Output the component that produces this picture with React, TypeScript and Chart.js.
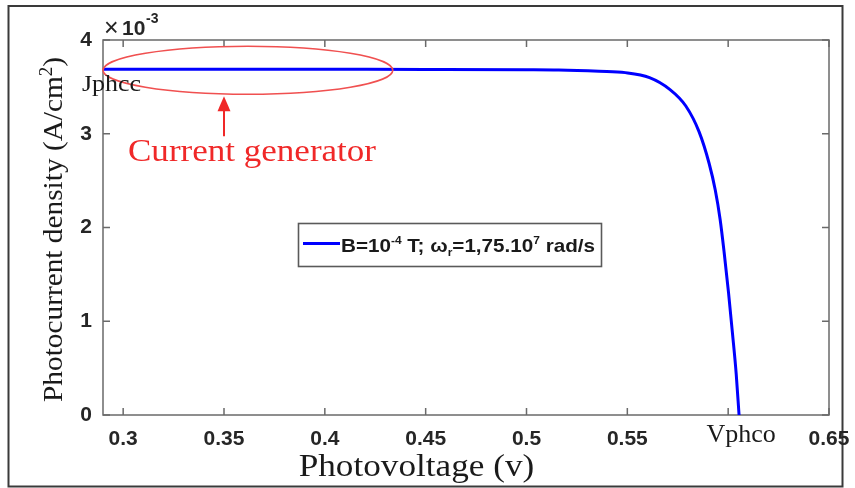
import React, { useEffect, useRef } from "react";
import { Chart, registerables } from "chart.js";

Chart.register(...registerables);

// ---- Data (photovoltage in V, photocurrent density in 10^-3 A/cm²) ----
const VOLTAGE = [0.29, 0.35, 0.4, 0.45, 0.5, 0.516, 0.536, 0.549, 0.561, 0.571, 0.579, 0.5856, 0.5906, 0.5936, 0.596, 0.598, 0.6002, 0.6021, 0.604, 0.6054];
const CURRENT = [3.688, 3.688, 3.687, 3.686, 3.683, 3.68, 3.666, 3.652, 3.599, 3.474, 3.296, 3.02, 2.68, 2.4, 2.088, 1.736, 1.3, 0.879, 0.434, 0];

const X_TICKS = [0.3, 0.35, 0.4, 0.45, 0.5, 0.55, 0.6, 0.65];
const X_TICK_LABELS = ["0.3", "0.35", "0.4", "0.45", "0.5", "0.55", "", "0.65"];
const Y_TICKS = [0, 1, 2, 3, 4];
const Y_TICK_LABELS = ["0", "1", "2", "3", "4"];
const X_RANGE = [0.29, 0.65];
const Y_RANGE = [0, 4];

const JPHCC = 3.688; // short-circuit photocurrent level
const VPHCO = 0.6054; // open-circuit photovoltage
const ELLIPSE_X = [0.29, 0.4337];
const ARROW_X = 0.35;

const SERIES_LABEL = "B=10^-4 T; ω_r=1,75.10^7 rad/s";
type Part = { t: string; sup?: boolean; sub?: boolean };
const LEGEND_PARTS: Part[] = [
  { t: "B=10" },
  { t: "-4", sup: true },
  { t: " T; ω" },
  { t: "r", sub: true },
  { t: "=1,75.10" },
  { t: "7", sup: true },
  { t: " rad/s" },
];
const Y_TITLE_PARTS: Part[] = [{ t: "Photocurrent density (A/cm" }, { t: "2", sup: true }, { t: ")" }];
const X_TITLE = "Photovoltage (v)";
const ANNOTATION = "Current generator";
const JPHCC_LABEL = "Jphcc";
const VPHCO_LABEL = "Vphco";

const SERIF = "'Liberation Serif', 'Times New Roman', serif";
const SANS = "'Liberation Sans', Arial, sans-serif";

function measureRich(ctx: CanvasRenderingContext2D, parts: Part[], font: string, small: string) {
  let w = 0;
  for (const p of parts) {
    ctx.font = p.sup || p.sub ? small : font;
    w += ctx.measureText(p.t).width;
  }
  return w;
}

function drawRich(
  ctx: CanvasRenderingContext2D,
  parts: Part[],
  x: number,
  y: number,
  font: string,
  small: string,
  rise: number,
  drop: number
) {
  let cx = x;
  for (const p of parts) {
    ctx.font = p.sup || p.sub ? small : font;
    const dy = p.sup ? -rise : p.sub ? drop : 0;
    ctx.fillText(p.t, cx, y + dy);
    cx += ctx.measureText(p.t).width;
  }
}

function stretchedText(
  ctx: CanvasRenderingContext2D,
  text: string,
  x: number,
  y: number,
  font: string,
  color: string,
  sx: number,
  align: "left" | "center"
) {
  ctx.save();
  ctx.font = font;
  ctx.fillStyle = color;
  ctx.textBaseline = "alphabetic";
  ctx.textAlign = "left";
  const w = ctx.measureText(text).width * sx;
  const startX = align === "center" ? x - w / 2 : x;
  ctx.translate(startX, y);
  ctx.scale(sx, 1);
  ctx.fillText(text, 0, 0);
  ctx.restore();
}

const decorPlugin = {
  id: "decor",
  beforeDraw(chart: any) {
    const ctx: CanvasRenderingContext2D = chart.ctx;
    ctx.save();
    ctx.fillStyle = "#ffffff";
    ctx.fillRect(0, 0, chart.width, chart.height);
    ctx.strokeStyle = "#3a3a3a";
    ctx.lineWidth = 2;
    ctx.strokeRect(8.5, 6, 834, 480.5);
    ctx.restore();
  },
  beforeDatasetsDraw(chart: any) {
    const ctx: CanvasRenderingContext2D = chart.ctx;
    const { left, right, top, bottom } = chart.chartArea;
    const xs = chart.scales.x;
    const ys = chart.scales.y;
    ctx.save();
    ctx.strokeStyle = "#6a6a6a";
    ctx.lineWidth = 1.5;
    ctx.strokeRect(left, top, right - left, bottom - top);
    const tl = 7;
    ctx.beginPath();
    for (const v of X_TICKS) {
      const px = xs.getPixelForValue(v);
      ctx.moveTo(px, bottom);
      ctx.lineTo(px, bottom - tl);
      ctx.moveTo(px, top);
      ctx.lineTo(px, top + tl);
    }
    for (const v of Y_TICKS) {
      const py = ys.getPixelForValue(v);
      ctx.moveTo(left, py);
      ctx.lineTo(left + tl, py);
      ctx.moveTo(right, py);
      ctx.lineTo(right - tl, py);
    }
    ctx.stroke();
    ctx.restore();
  },
  afterDraw(chart: any) {
    const ctx: CanvasRenderingContext2D = chart.ctx;
    const { left } = chart.chartArea;
    const xs = chart.scales.x;
    const ys = chart.scales.y;
    const red = "#f02828";

    // Ellipse around the plateau
    const ex0 = xs.getPixelForValue(ELLIPSE_X[0]);
    const ex1 = xs.getPixelForValue(ELLIPSE_X[1]);
    const ey = ys.getPixelForValue(JPHCC);
    ctx.save();
    ctx.strokeStyle = "#f05050";
    ctx.lineWidth = 1.6;
    ctx.beginPath();
    ctx.ellipse((ex0 + ex1) / 2, ey + 1, (ex1 - ex0) / 2, 24, 0, 0, Math.PI * 2);
    ctx.stroke();

    // Arrow
    const ax = xs.getPixelForValue(ARROW_X);
    const tipY = ey + 27;
    ctx.strokeStyle = red;
    ctx.fillStyle = red;
    ctx.lineWidth = 2;
    ctx.beginPath();
    ctx.moveTo(ax, tipY + 12);
    ctx.lineTo(ax, tipY + 40);
    ctx.stroke();
    ctx.beginPath();
    ctx.moveTo(ax, tipY);
    ctx.lineTo(ax - 6.5, tipY + 15);
    ctx.lineTo(ax + 6.5, tipY + 15);
    ctx.closePath();
    ctx.fill();
    ctx.restore();

    stretchedText(ctx, ANNOTATION, 128, 160.5, `31px ${SERIF}`, red, 1.13, "left");

    // Jphcc and Vphco labels
    stretchedText(ctx, JPHCC_LABEL, 82, 91, `24px ${SERIF}`, "#1a1a1a", 1.08, "left");
    stretchedText(ctx, VPHCO_LABEL, xs.getPixelForValue(VPHCO) + 2, 441.5, `25px ${SERIF}`, "#1a1a1a", 1.04, "center");

    // x10^-3 multiplier
    ctx.save();
    ctx.fillStyle = "#262626";
    ctx.textBaseline = "alphabetic";
    ctx.textAlign = "left";
    ctx.font = `25px ${SANS}`;
    ctx.fillText("×", left + 1, 36);
    ctx.font = `bold 21px ${SANS}`;
    ctx.fillText("10", left + 19, 35);
    ctx.font = `bold 14px ${SANS}`;
    ctx.fillText("-3", left + 43, 23);
    ctx.restore();

    // X axis title
    stretchedText(ctx, X_TITLE, 416.5, 476, `32px ${SERIF}`, "#1a1a1a", 1.1, "center");

    // Y axis title (rotated)
    ctx.save();
    ctx.fillStyle = "#1a1a1a";
    ctx.textBaseline = "alphabetic";
    ctx.textAlign = "left";
    const yFont = `28px ${SERIF}`;
    const ySmall = `18px ${SERIF}`;
    const yw = measureRich(ctx, Y_TITLE_PARTS, yFont, ySmall);
    const yTarget = 345;
    ctx.translate(62, 229.5);
    ctx.rotate(-Math.PI / 2);
    ctx.scale(yTarget / yw, 1);
    drawRich(ctx, Y_TITLE_PARTS, -yw / 2, 0, yFont, ySmall, 10, 0);
    ctx.restore();

    // Legend
    const bx = 298.5, by = 223.5, bw = 303, bh = 43;
    ctx.save();
    ctx.fillStyle = "#ffffff";
    ctx.fillRect(bx, by, bw, bh);
    ctx.strokeStyle = "#5a5a5a";
    ctx.lineWidth = 1.6;
    ctx.strokeRect(bx, by, bw, bh);
    ctx.strokeStyle = "#0000ff";
    ctx.lineWidth = 3;
    ctx.beginPath();
    ctx.moveTo(303, 243.5);
    ctx.lineTo(340, 243.5);
    ctx.stroke();
    ctx.fillStyle = "#1a1a1a";
    ctx.textBaseline = "alphabetic";
    ctx.textAlign = "left";
    const lFont = `bold 19px ${SANS}`;
    const lSmall = `bold 11px ${SANS}`;
    const lw = measureRich(ctx, LEGEND_PARTS, lFont, lSmall);
    ctx.translate(341, 251.5);
    ctx.scale(254 / lw, 1);
    drawRich(ctx, LEGEND_PARTS, 0, 0, lFont, lSmall, 8, 4);
    ctx.restore();
  },
};

export default function App() {
  const ref = useRef<HTMLCanvasElement | null>(null);

  useEffect(() => {
    if (!ref.current) return;
    const tickFont = { family: SANS, size: 21, weight: "bold" as const };
    const chart = new Chart(ref.current, {
      type: "line",
      data: {
        datasets: [
          {
            label: SERIES_LABEL,
            data: VOLTAGE.map((x, i) => ({ x, y: CURRENT[i] })),
            borderColor: "#0000ff",
            backgroundColor: "#0000ff",
            borderWidth: 3,
            pointRadius: 0,
            fill: false,
            cubicInterpolationMode: "monotone",
            clip: false as any,
          },
        ],
      },
      options: {
        responsive: false,
        animation: false,
        devicePixelRatio: 1,
        layout: { padding: { top: 40, right: 26, bottom: 0, left: 0 } },
        plugins: {
          legend: { display: false },
          tooltip: { enabled: false },
          title: { display: false },
        },
        scales: {
          x: {
            type: "linear",
            min: X_RANGE[0],
            max: X_RANGE[1],
            afterBuildTicks: (s: any) => {
              s.ticks = X_TICKS.map((v) => ({ value: v }));
            },
            afterFit: (s: any) => {
              s.height = 73;
              s.paddingLeft = 0;
              s.paddingRight = 0;
            },
            grid: { display: false, drawTicks: false },
            border: { display: false },
            ticks: {
              padding: 12,
              color: "#262626",
              font: tickFont,
              maxRotation: 0,
              autoSkip: false,
              callback: (v: any) => {
                const i = X_TICKS.findIndex((t) => Math.abs(t - Number(v)) < 1e-6);
                return i >= 0 ? X_TICK_LABELS[i] : "";
              },
            },
          },
          y: {
            type: "linear",
            min: Y_RANGE[0],
            max: Y_RANGE[1],
            afterBuildTicks: (s: any) => {
              s.ticks = Y_TICKS.map((v) => ({ value: v }));
            },
            afterFit: (s: any) => {
              s.width = 103;
              s.paddingTop = 0;
              s.paddingBottom = 0;
            },
            grid: { display: false, drawTicks: false },
            border: { display: false },
            ticks: {
              padding: 11,
              color: "#262626",
              font: tickFont,
              autoSkip: false,
              callback: (v: any) => {
                const i = Y_TICKS.findIndex((t) => Math.abs(t - Number(v)) < 1e-6);
                return i >= 0 ? Y_TICK_LABELS[i] : "";
              },
            },
          },
        },
      },
      plugins: [decorPlugin],
    });
    return () => chart.destroy();
  }, []);

  return (
    <div style={{ position: "fixed", left: 0, top: 0, width: 855, height: 488, background: "#fff" }}>
      <canvas ref={ref} width={855} height={488} style={{ width: 855, height: 488, display: "block" }} />
    </div>
  );
}
